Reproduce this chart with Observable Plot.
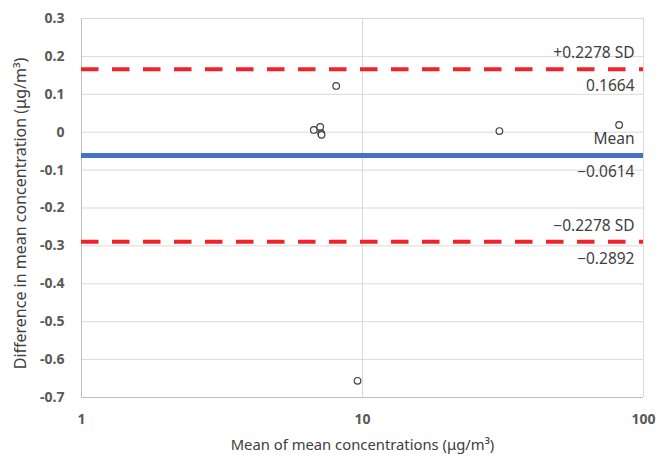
<!DOCTYPE html>
<html><head><meta charset="utf-8">
<script src="https://cdn.jsdelivr.net/npm/d3@7"></script>
<script src="https://cdn.jsdelivr.net/npm/@observablehq/plot@0.6"></script>
<style>
body{margin:0;background:#fff;}
#chart svg{font-family:"Noto Sans",sans-serif;}
</style></head>
<body><div id="chart"></div>
<script>
const meanConc = [6.71, 7.07, 7.13, 7.15, 8.06, 9.6, 30.7, 81.9];
const diffConc = [0.006, 0.014, -0.003, -0.007, 0.122, -0.656, 0.003, 0.019];
const limitValues = [0.1664, -0.0614, -0.2892];
const limitNames = ["+0.2278 SD", "Mean", "\u22120.2278 SD"];
const limitValueLabels = ["0.1664", "\u22120.0614", "\u22120.2892"];
const yTicks = [0.3, 0.2, 0.1, 0, -0.1, -0.2, -0.3, -0.4, -0.5, -0.6, -0.7];
const xTicks = [1, 10, 100];
const xTitle = "Mean of mean concentrations (\u03bcg/m\u00b3)";
const yTitle = "Difference in mean concentration (\u03bcg/m\u00b3)";

const points = meanConc.map((x, i) => ({x, y: diffConc[i]}));
const limits = limitValues.map((v, i) => ({v, name: limitNames[i], lab: limitValueLabels[i], mean: i === 1}));

const chart = Plot.plot({
  width: 656, height: 460,
  marginLeft: 81, marginRight: 13, marginTop: 18, marginBottom: 63,
  x: {type: "log", domain: [1, 100]},
  y: {domain: [-0.7, 0.3]},
  marks: [
    Plot.ruleY(yTicks, {stroke: "#d9d9d9", strokeWidth: 1}),
    Plot.ruleX([10, 100], {stroke: "#d9d9d9", strokeWidth: 1}),
    Plot.ruleX([1], {stroke: "#bfbfbf", strokeWidth: 1}),
    Plot.ruleY([-0.7], {stroke: "#bfbfbf", strokeWidth: 1}),
    Plot.ruleY(limits.filter(d => !d.mean), {y: "v", x1: 1, x2: 100, stroke: "#f0232a", strokeWidth: 4, strokeDasharray: "17.5,13.5"}),
    Plot.ruleY(limits.filter(d => d.mean), {y: "v", x1: 1, x2: 100, stroke: "#4472c4", strokeWidth: 5}),
    Plot.dot(points, {x: "x", y: "y", r: 3.3, stroke: "#404040", strokeWidth: 1.2, fill: "white"}),
    Plot.text(limits, {x: 100, y: "v", text: "name", textAnchor: "end", dx: -9, dy: -16, fontSize: 15.5, fill: "#404040"}),
    Plot.text(limits, {x: 100, y: "v", text: "lab", textAnchor: "end", dx: -9, dy: 17, fontSize: 15.5, fill: "#404040"}),
    Plot.axisY(yTicks, {tickSize: 0, tickPadding: 17, fontSize: 14, fontWeight: "bold", fill: "#595959", label: null, tickFormat: d => d === 0 ? "0" : String(d)}),
    Plot.axisX(xTicks, {tickSize: 0, tickPadding: 17, fontSize: 14, fontWeight: "bold", fill: "#595959", label: null, tickFormat: d => String(d)}),
    Plot.text([xTitle], {frameAnchor: "bottom", dy: 52, fontSize: 14.8, fill: "#404040"}),
    Plot.text([yTitle], {frameAnchor: "left", textAnchor: "middle", rotate: -90, dx: -61, dy: 5.5, fontSize: 16, fill: "#404040"})
  ]
});
document.getElementById("chart").appendChild(chart);
</script></body></html>
